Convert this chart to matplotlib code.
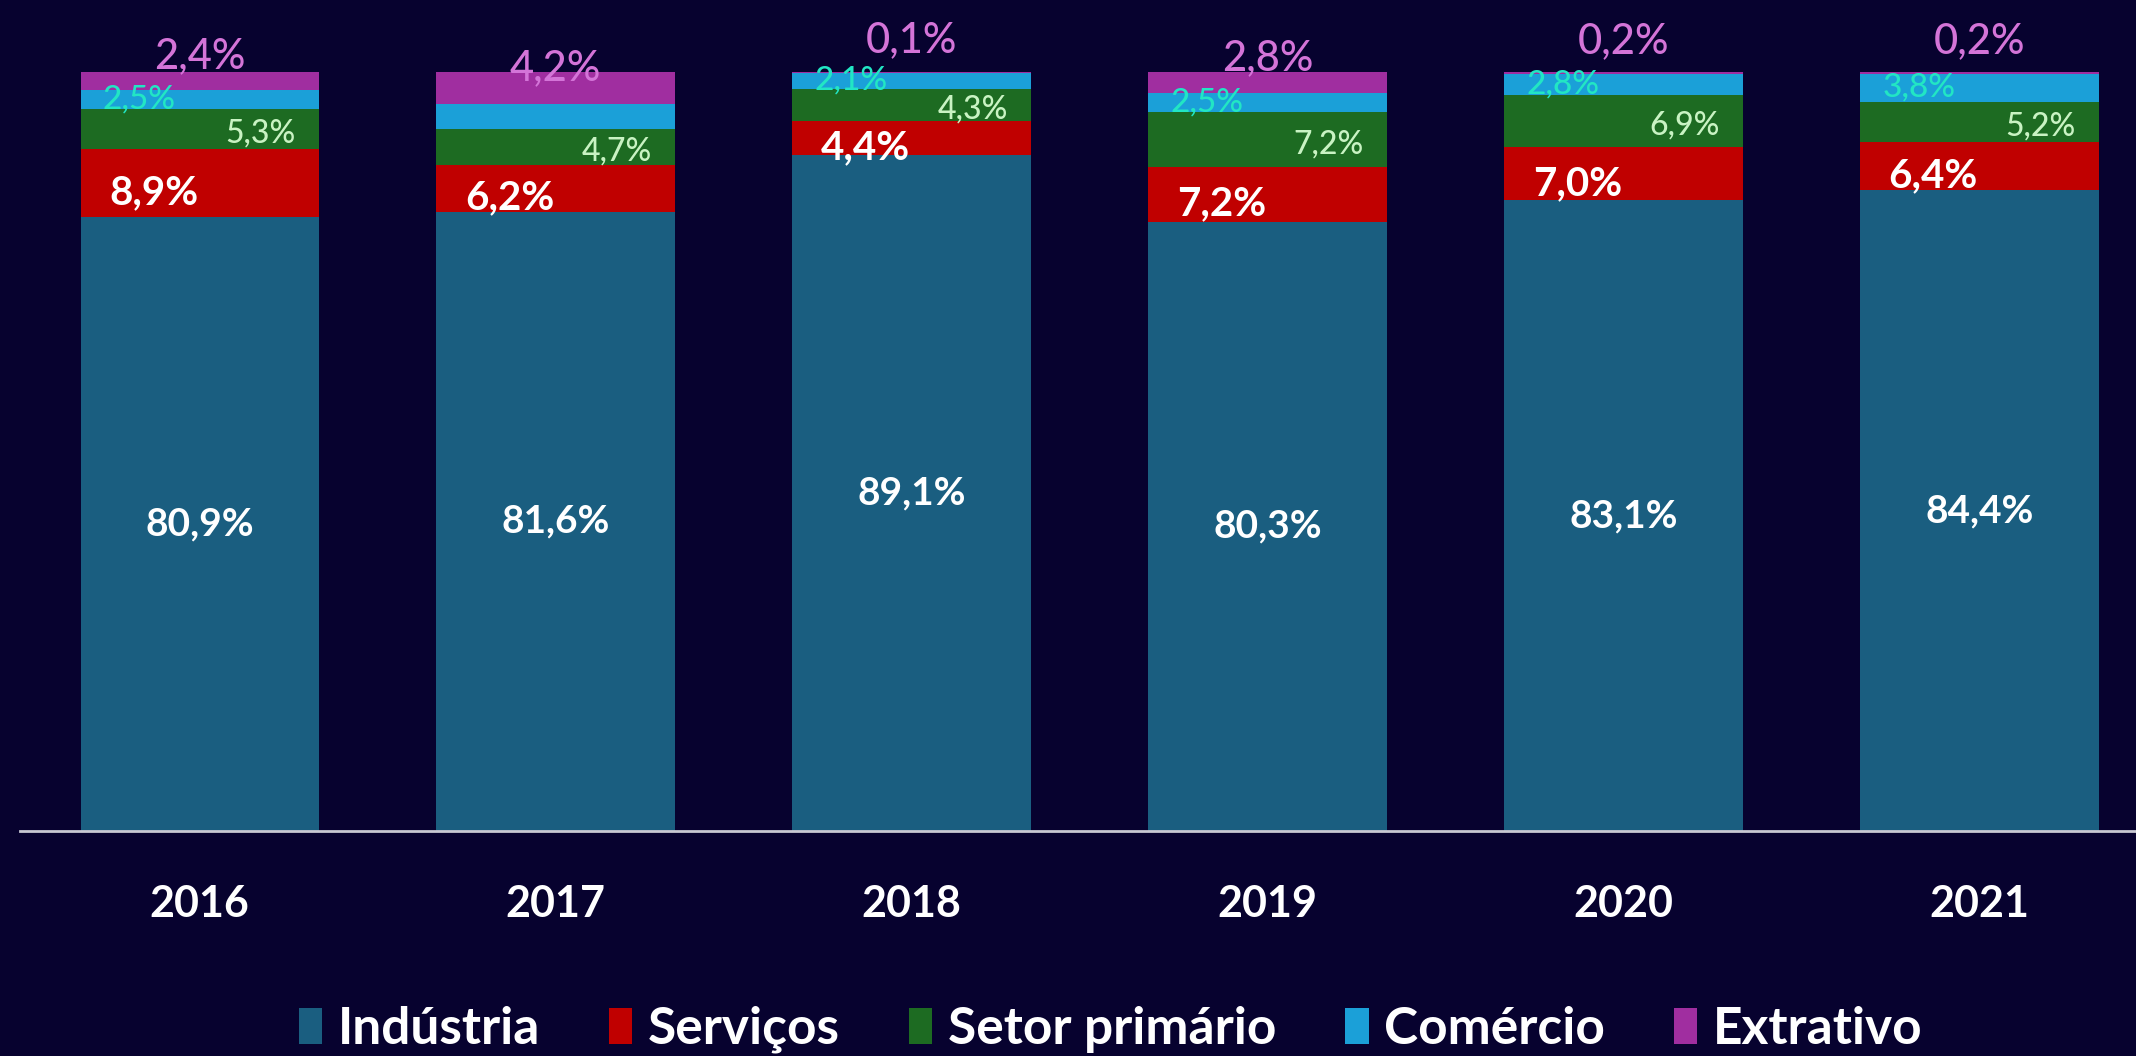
import matplotlib
matplotlib.use("Agg")
import matplotlib.pyplot as plt
from matplotlib.patches import Patch
import numpy as np

years = ["2016", "2017", "2018", "2019", "2020", "2021"]
industria = [80.9, 81.6, 89.1, 80.3, 83.1, 84.4]
servicos = [8.9, 6.2, 4.4, 7.2, 7.0, 6.4]
setor_primario = [5.3, 4.7, 4.3, 7.2, 6.9, 5.2]
comercio = [2.5, 3.3, 2.1, 2.5, 2.8, 3.8]
extrativo = [2.4, 4.2, 0.1, 2.8, 0.2, 0.2]
comercio_shown = [True, False, True, True, True, True]

series = [
    ("Indústria", industria, "#1a5e80"),
    ("Serviços", servicos, "#c00000"),
    ("Setor primário", setor_primario, "#1d6b22"),
    ("Comércio", comercio, "#1ba0d8"),
    ("Extrativo", extrativo, "#a02ea0"),
]

BG = "#07022f"
plt.rcParams['font.family'] = ['Lato', 'DejaVu Sans']


def fmt(v):
    return f"{v:.1f}%".replace(".", ",")


fig = plt.figure(figsize=(21.36, 10.56), dpi=100, facecolor=BG)
ax = fig.add_axes([20 / 2136, 225 / 1056, 1 - 20 / 2136, 759 / 1056])
ax.set_facecolor(BG)

x = np.arange(len(years))
width = 0.67
bottom = np.zeros(len(years))
bottoms = {}
for name, vals, color in series:
    ax.bar(x, vals, width, bottom=bottom, color=color, label=name, zorder=2)
    bottoms[name] = bottom.copy()
    bottom = bottom + np.array(vals)

ax.set_xlim(-0.505, 5.44)
ax.set_ylim(0, 100)

# data labels
for i in range(len(years)):
    b = bottoms["Indústria"][i]
    ax.text(x[i], b + industria[i] / 2, fmt(industria[i]), ha="center", va="center",
            color="white", fontsize=28, fontweight="bold")
    b = bottoms["Serviços"][i]
    ax.text(x[i] - 0.13, b + servicos[i] / 2 - 1.3, fmt(servicos[i]), ha="center", va="center",
            color="white", fontsize=29, fontweight="bold")
    b = bottoms["Setor primário"][i]
    ax.text(x[i] + 0.27, b + setor_primario[i] / 2 - 0.6, fmt(setor_primario[i]), ha="right",
            va="center", color="#c9f3c3", fontsize=23, fontweight="medium")
    if comercio_shown[i]:
        b = bottoms["Comércio"][i]
        ax.text(x[i] - 0.17, b + comercio[i] / 2, fmt(comercio[i]), ha="center", va="center",
                color="#22e6c4", fontsize=24, fontweight="medium")
    ax.text(x[i], 104.3 - 0.9 * extrativo[i], fmt(extrativo[i]), ha="center", va="center",
            color="#d474d8", fontsize=30, fontweight="medium", clip_on=False, zorder=4)

for s in ["top", "right", "left"]:
    ax.spines[s].set_visible(False)
ax.spines["bottom"].set_color("#c8c8d2")
ax.spines["bottom"].set_linewidth(2)
ax.spines["bottom"].set_zorder(3)
ax.set_yticks([])
ax.set_xticks(x)
ax.set_xticklabels(years, color="white", fontsize=31, fontweight="bold")
ax.tick_params(axis="x", length=0, pad=38)

handles = [Patch(facecolor=c, edgecolor="none") for _, _, c in series]
labels = [n for n, _, _ in series]
leg = fig.legend(handles, labels, loc="center", bbox_to_anchor=(0.52, 0.025), ncol=5,
                 frameon=False, fontsize=37, handlelength=0.45, handleheight=0.7,
                 handletextpad=0.3, columnspacing=1.35)
for t in leg.get_texts():
    t.set_color("white")
    t.set_fontweight("bold")

fig.savefig("out.png", dpi=100, facecolor=BG)
